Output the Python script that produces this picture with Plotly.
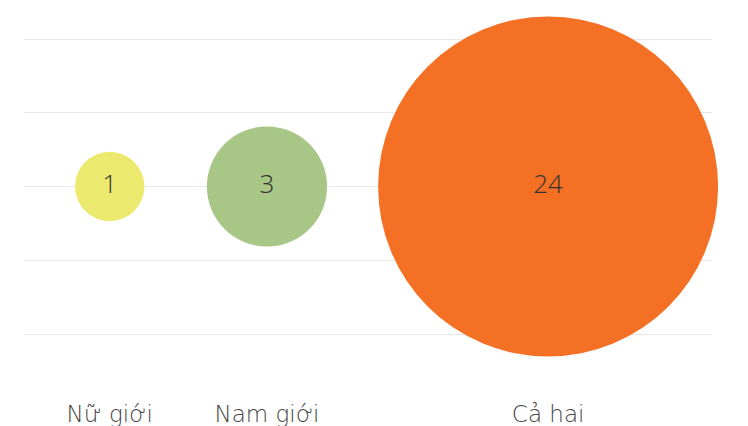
import numpy as np
import plotly.graph_objects as go

categories = ["Nữ giới", "Nam giới", "Cả hai"]
values = [1, 3, 24]
colors = ["#ece96f", "#a8c686", "#f37025"]

W, H = 748, 426
left, right = 24, 712          # plot area, pixels
top, bottom = 12, 398
unit_px = 69.4                 # diameter of a bubble with value 1
start = 75                     # left edge of first bubble
gaps = [62.5, 51.0]            # space between neighbouring bubbles

diam = unit_px * np.sqrt(values)
centers = []
pos = start
for i, d in enumerate(diam):
    centers.append(pos + d / 2)
    pos += d + (gaps[i] if i < len(gaps) else 0)

# y: gridlines 0..4 at pixel 39..334
px_per = (334 - 39) / 4
y_hi = 4 + (39 - top) / px_per
y_lo = -(bottom - 334) / px_per

fig = go.Figure(go.Scatter(
    x=centers, y=[2] * len(values),
    mode="markers+text",
    text=[str(v) for v in values],
    textposition="middle center",
    textfont=dict(family="Open Sans, sans-serif", size=26, color="#333333", weight=300),
    marker=dict(size=list(np.sqrt(values)), sizemode="diameter", sizeref=1 / unit_px,
                color=colors, opacity=1, line=dict(width=0)),
    cliponaxis=False,
    hoverinfo="skip",
))

fig.update_layout(
    width=W, height=H,
    margin=dict(l=left, r=W - right, t=top, b=H - bottom, pad=0),
    paper_bgcolor="white", plot_bgcolor="white",
    showlegend=False,
    xaxis=dict(range=[left, right], tickvals=centers, ticktext=categories, automargin=False,
               showgrid=False, zeroline=False, showline=False, ticks="",
               tickfont=dict(family="DejaVu Sans, sans-serif", size=23, color="#444444", weight=200)),
    yaxis=dict(range=[y_lo, y_hi], tickvals=[0, 1, 2, 3, 4], showticklabels=False, automargin=False,
               showgrid=True, gridcolor="#e8e8e8", gridwidth=1, zeroline=False, showline=False, ticks=""),
)

fig.write_html("out.html", config={"displayModeBar": False},
               post_script="document.body.style.margin='0';")
